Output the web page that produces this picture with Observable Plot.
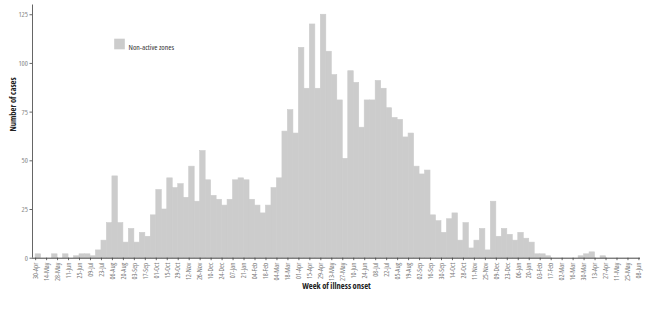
<!DOCTYPE html>
<html><head><meta charset="utf-8">
<script src="https://cdn.jsdelivr.net/npm/d3@7"></script>
<script src="https://cdn.jsdelivr.net/npm/@observablehq/plot@0.6"></script>
<style>
body{margin:0;background:#fff;}
#chart{width:650px;height:309px;}
#chart svg{font-stretch:condensed;}
</style></head><body><div id="chart"></div>
<script>
const firstWeek = "2018-04-30";
const seriesName = "Non-active zones";
const cases = [
  2,0,0,2,0,2,0,1,2,2,1,4,9,18,42,18,8,15,8,13,
  11,22,35,25,41,36,38,31,47,29,55,40,32,30,27,30,40,41,40,30,
  27,23,27,36,41,65,76,64,108,87,120,87,125,106,94,81,51,96,90,67,
  81,81,91,87,77,72,71,62,64,47,43,45,22,19,13,20,23,9,18,5,
  9,15,4,29,11,15,12,9,13,10,8,2,2,1,0,0,0,0,0,1,
  2,3,0,1,0,0,0,0,0,0,0
];
const tickLabels = [
  "30-Apr","14-May","28-May","11-Jun","25-Jun","09-Jul","23-Jul","06-Aug","20-Aug","03-Sep",
  "17-Sep","01-Oct","15-Oct","29-Oct","12-Nov","26-Nov","10-Dec","24-Dec","07-Jan","21-Jan",
  "04-Feb","18-Feb","04-Mar","18-Mar","01-Apr","15-Apr","29-Apr","13-May","27-May","10-Jun",
  "24-Jun","08-Jul","22-Jul","05-Aug","19-Aug","02-Sep","16-Sep","30-Sep","14-Oct","28-Oct",
  "11-Nov","25-Nov","09-Dec","23-Dec","06-Jan","20-Jan","03-Feb","17-Feb","02-Mar","16-Mar",
  "30-Mar","13-Apr","27-Apr","11-May","25-May","08-Jun"
];
const yTicks = [0,25,50,75,100,125];

const start = new Date(firstWeek + "T00:00:00Z");
const weeks = cases.map((c, i) => ({
  start: d3.utcDay.offset(start, 7 * i),
  end: d3.utcDay.offset(start, 7 * i + 7),
  cases: c
}));
const tickDates = tickLabels.map((l, i) => d3.utcDay.offset(start, 14 * i));
const labelMap = new Map(tickDates.map((d, i) => [+d, tickLabels[i]]));
const xDomain = [d3.utcDay.offset(start, -4), d3.utcDay.offset(start, 772)];

const font = "'Open Sans','Roboto',sans-serif";

const chart = Plot.plot({
  width: 650,
  height: 309,
  marginLeft: 32,
  marginRight: 10,
  marginTop: 4.5,
  marginBottom: 51.3,
  style: {fontFamily: font, background: "#fff"},
  x: {type: "utc", domain: xDomain},
  y: {domain: [0, 130]},
  marks: [
    Plot.rectY(weeks, {x1: "start", x2: "end", y: "cases", fill: "#cccccc", stroke: "#cccccc", strokeWidth: 0.6, inset: 0}),
    Plot.axisX(tickDates, {
      tickRotate: -90, tickFormat: d => labelMap.get(+d), tickSize: 2.5, tickPadding: 2,
      fontSize: 7, fill: "#777", stroke: "#666", label: null
    }),
    Plot.axisY(yTicks, {tickSize: 2.5, tickPadding: 2, fontSize: 7.5, fill: "#888", stroke: "#666", label: null}),
    Plot.ruleY([0], {stroke: "#444", strokeWidth: 1}),
    Plot.ruleX([xDomain[0]], {stroke: "#666", strokeWidth: 1}),
    Plot.text(["Week of illness onset"], {frameAnchor: "bottom", dy: 30.5, fontWeight: "bold", fontSize: 8.5, fill: "#222"}),
    Plot.text(["Number of cases"], {frameAnchor: "left", dx: -19, rotate: -90, fontWeight: "bold", fontSize: 8.5, fill: "#222"}),
    Plot.dot([seriesName], {frameAnchor: "top-left", dx: 87, dy: 39, symbol: "square", r: 6, fill: "#cccccc", stroke: null}),
    Plot.text([seriesName], {frameAnchor: "top-left", dx: 96, dy: 39.5, textAnchor: "start", fontSize: 7.8, fill: "#333"})
  ]
});
document.getElementById("chart").appendChild(chart);
</script></body></html>
